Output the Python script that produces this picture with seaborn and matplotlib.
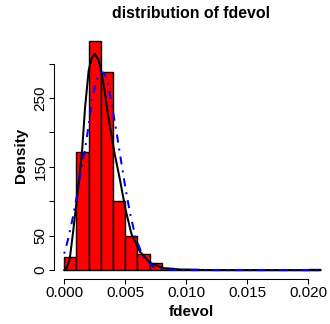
import numpy as np
import pandas as pd
import seaborn as sns
import matplotlib
matplotlib.use("Agg")
import matplotlib.pyplot as plt

# histogram bins (fdevol) and density heights
bin_edges = [i * 0.001 for i in range(22)]
bin_density = [19, 171, 333, 288, 100, 49, 23, 11, 3, 1, 1,
               0, 0, 0, 0, 0, 0, 0, 0, 0, 1]

# black solid fitted density curve
black_x = [0.0, 0.0002, 0.00044, 0.00071, 0.00098, 0.00126, 0.00145, 0.0017,
           0.002, 0.00225, 0.0025, 0.0028, 0.00307, 0.00334, 0.00361, 0.00389,
           0.0041, 0.00457, 0.005, 0.0055, 0.0062, 0.007, 0.0081, 0.0095,
           0.012, 0.021]
black_y = [0, 3, 15, 53, 95, 138, 170, 235, 290, 308, 314, 306, 286, 257, 223,
           194, 172, 131, 90, 53, 27, 11, 3, 0.8, 0.1, 0]

# blue dot-dash fitted density curve
blue_x = [0.0, 0.0003, 0.00057, 0.00085, 0.00112, 0.00139, 0.00167, 0.002,
          0.00225, 0.0025, 0.0028, 0.003, 0.0032, 0.0035, 0.00375, 0.004,
          0.0043, 0.0046, 0.005, 0.0054, 0.0059, 0.0065, 0.0073, 0.0084,
          0.01, 0.021]
blue_y = [24, 44, 65, 90, 116, 146, 172, 210, 243, 266, 283, 287, 287, 279,
          255, 230, 199, 165, 121, 82, 44, 19, 5, 0.5, 0, 0]

x_ticks = [0.0, 0.005, 0.010, 0.015, 0.020]
x_tick_labels = ["0.000", "0.005", "0.010", "0.015", "0.020"]
y_ticks = [0, 50, 100, 150, 200, 250, 300]
y_tick_labels = ["0", "50", "", "150", "", "250", ""]

FONT = "Liberation Sans"
plt.rcParams["font.family"] = [FONT, "DejaVu Sans"]

fig = plt.figure(figsize=(3.30, 3.24), dpi=100)
ax = fig.add_axes([54 / 330, 44.7 / 324, (330.7 - 54) / 330, (279.3 - 31.8) / 324])

centers = [(bin_edges[i] + bin_edges[i + 1]) / 2 for i in range(len(bin_density))]
hist_df = pd.DataFrame({"fdevol": centers, "density": bin_density})
sns.histplot(data=hist_df, x="fdevol", weights="density", bins=bin_edges,
             stat="count", color="#FF0000", edgecolor="black", linewidth=1.0,
             alpha=1.0, ax=ax)

black_df = pd.DataFrame({"x": black_x, "y": black_y})
blue_df = pd.DataFrame({"x": blue_x, "y": blue_y})
sns.lineplot(data=black_df, x="x", y="y", color="black", linewidth=1.45,
             sort=False, ax=ax)
sns.lineplot(data=blue_df, x="x", y="y", color="#0000FF", linewidth=1.45,
             sort=False, ax=ax)
ax.lines[-1].set_linestyle((0, (1, 3, 4, 3)))

xr = 0.021
ax.set_xlim(-0.04 * xr, xr * 1.04)
ymax = 333
ax.set_ylim(-0.04 * ymax, ymax * 1.04)

for s in ["top", "right"]:
    ax.spines[s].set_visible(False)
ax.spines["left"].set_bounds(0, 300)
ax.spines["bottom"].set_bounds(0, 0.020)
for s in ["left", "bottom"]:
    ax.spines[s].set_linewidth(0.75)

ax.set_xticks(x_ticks)
ax.set_xticklabels(x_tick_labels)
ax.set_yticks(y_ticks)
ax.set_yticklabels(y_tick_labels, rotation=90, va="center")
ax.tick_params(axis="both", length=3.6, width=0.75, labelsize=11, pad=1)

ax.set_xlabel("fdevol", fontsize=11, fontweight="bold", labelpad=2)
ax.set_ylabel("Density", fontsize=11, fontweight="bold", labelpad=6)
ax.xaxis.set_label_coords((191.5 - 54) / (330.7 - 54), -(316 - 279.3) / (279.3 - 31.8))
ax.yaxis.set_label_coords(-(54 - 25) / (330.7 - 54), 0.5)
ax.xaxis.label.set_va("baseline")
ax.yaxis.label.set_va("baseline")

fig.text(191.5 / 330, 1 - 17.5 / 324, "distribution of fdevol", ha="center",
         va="baseline", fontsize=11.4, fontweight="bold")

fig.savefig("out.png", dpi=100)
